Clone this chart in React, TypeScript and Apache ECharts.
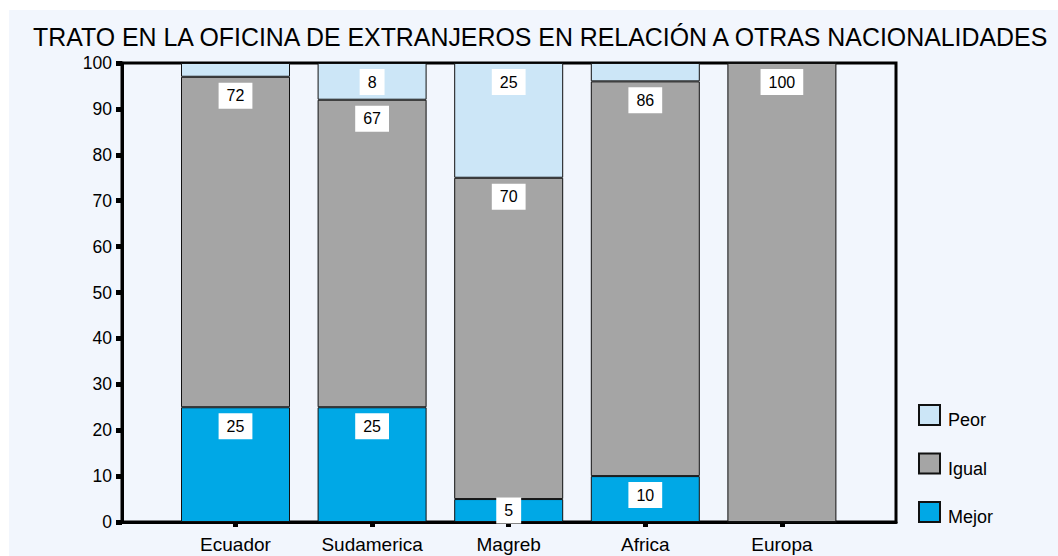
import React, { useEffect, useRef } from "react";
import * as echarts from "echarts";

const categories = ["Ecuador", "Sudamerica", "Magreb", "Africa", "Europa"];
const mejor = [25, 25, 5, 10, 0];
const igual = [72, 67, 70, 86, 100];
const peor = [3, 8, 25, 4, 0];
const yTicks = [0, 10, 20, 30, 40, 50, 60, 70, 80, 90, 100];
const titleText = "TRATO EN LA OFICINA DE EXTRANJEROS EN RELACIÓN A OTRAS NACIONALIDADES";

const FONT = "'Liberation Sans', Arial, Helvetica, sans-serif";

export default function App() {
  const ref = useRef<HTMLDivElement>(null);
  useEffect(() => {
    document.body.style.margin = "0";
    const chart = echarts.init(ref.current!, null, { renderer: "svg" });
    const labelBase = {
      show: true,
      position: "insideTop",
      distance: 6,
      backgroundColor: "#ffffff",
      padding: [5, 8, 5, 8],
      color: "#000",
      fontSize: 16,
      fontFamily: FONT,
    };
    const mk = (vals: number[], smallInside: boolean) =>
      vals.map((v) => ({
        value: v,
        label:
          v < 5
            ? { show: false }
            : smallInside && v < 8
            ? { position: "inside" }
            : {},
      }));
    const barCommon = {
      type: "bar",
      stack: "total",
      xAxisIndex: 1,
      yAxisIndex: 1,
      barWidth: 109,
      label: labelBase,
    };
    chart.setOption({
      animation: false,
      backgroundColor: "#F2F6FD",
      textStyle: { fontFamily: FONT },
      title: {
        text: titleText,
        left: 19,
        top: 9,
        textStyle: { fontSize: 24.9, fontWeight: "normal", color: "#000", fontFamily: FONT },
      },
      legend: {
        orient: "vertical",
        left: 904,
        top: 389,
        itemWidth: 21,
        itemHeight: 20,
        itemGap: 23.5,
        icon: "rect",
        data: ["Peor", "Igual", "Mejor"],
        formatter: "{t|{name}}",
        textStyle: {
          fontSize: 18,
          color: "#000",
          fontFamily: FONT,
          rich: {
            t: { fontSize: 18, color: "#000", fontFamily: FONT, padding: [10, 0, 0, 3] },
          },
        },
      },
      grid: [
        {
          left: 113,
          top: 53,
          width: 774,
          height: 459,
          show: true,
          borderColor: "#000",
          borderWidth: 3,
          backgroundColor: "transparent",
        },
        { left: 158.2, top: 53, width: 683, height: 459 },
      ],
      xAxis: [
        {
          type: "value",
          gridIndex: 0,
          min: 0,
          max: 1,
          axisLine: { show: true, onZero: false, lineStyle: { color: "#000", width: 3 } },
          axisTick: { show: false },
          axisLabel: { show: false },
          splitLine: { show: false },
        },
        {
          type: "category",
          gridIndex: 1,
          data: categories,
          axisLine: { show: false },
          axisTick: { show: true, alignWithLabel: true, length: 5, lineStyle: { color: "#000", width: 5 } },
          axisLabel: { fontSize: 19, color: "#000", margin: 13, fontFamily: FONT },
        },
      ],
      yAxis: [
        {
          type: "value",
          gridIndex: 0,
          min: 0,
          max: 100,
          interval: 10,
          axisLine: { show: true, lineStyle: { color: "#000", width: 3 } },
          axisTick: { show: true, length: 6, lineStyle: { color: "#000", width: 5 } },
          axisLabel: {
            fontSize: 17.5,
            color: "#000",
            margin: 10,
            fontFamily: FONT,
            formatter: (v: number) => (yTicks.includes(v) ? String(v) : ""),
          },
          splitLine: { show: false },
        },
        {
          type: "value",
          gridIndex: 1,
          min: 0,
          max: 100,
          show: false,
          splitLine: { show: false },
        },
      ],
      series: [
        {
          ...barCommon,
          name: "Mejor",
          data: mk(mejor, true),
          itemStyle: { color: "#00A8E6", borderColor: "#111", borderWidth: 1 },
        },
        {
          ...barCommon,
          name: "Igual",
          data: mk(igual, false),
          itemStyle: { color: "#A5A5A5", borderColor: "#111", borderWidth: 1 },
        },
        {
          ...barCommon,
          name: "Peor",
          data: mk(peor, false),
          itemStyle: { color: "#CCE6F7", borderColor: "#111", borderWidth: 1 },
        },
      ],
    });
    return () => chart.dispose();
  }, []);
  return (
    <div
      ref={ref}
      style={{ position: "absolute", left: 9, top: 10, width: 1049, height: 546 }}
    />
  );
}
